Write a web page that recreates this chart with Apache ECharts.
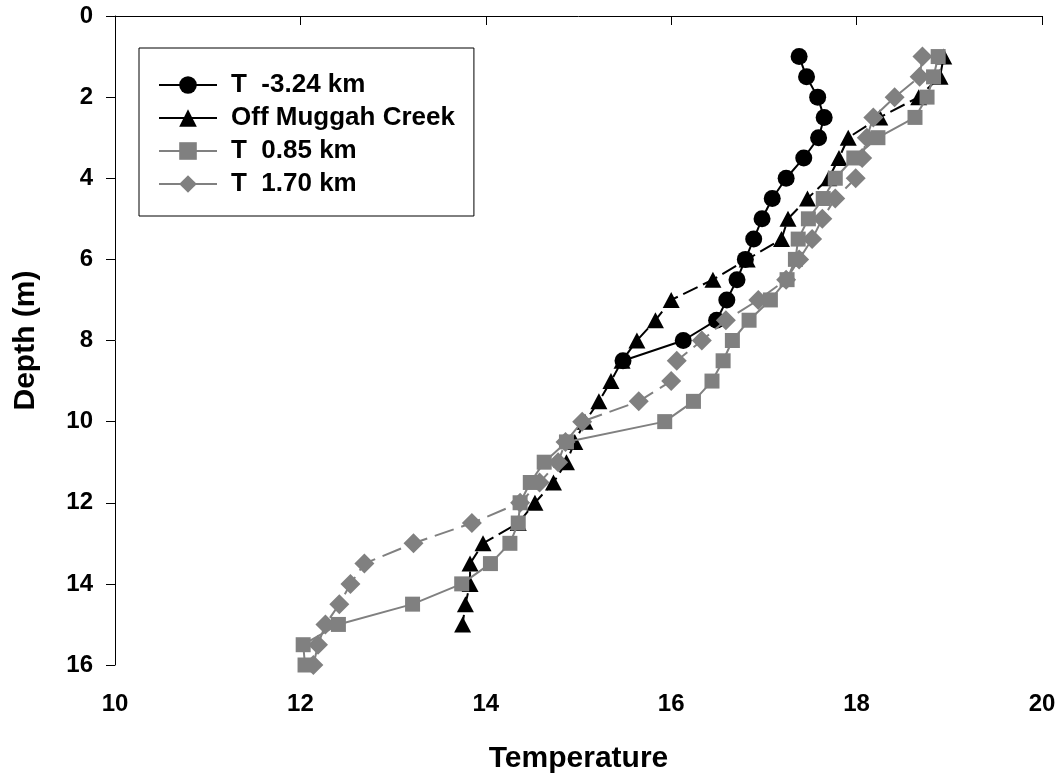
<!DOCTYPE html>
<html>
<head>
<meta charset="utf-8">
<script src="https://cdn.jsdelivr.net/npm/echarts@6/dist/echarts.min.js"></script>
<style>
html,body{margin:0;padding:0;background:#fff;}
#chart{width:1062px;height:777px;}
</style>
</head>
<body>
<div id="chart"></div>
<script>
// Series names
const seriesNames = ['T  -3.24 km', 'Off Muggah Creek', 'T  0.85 km', 'T  1.70 km'];

// Depths (m)
const depthsCircle = [1,1.5,2,2.5,3,3.5,4,4.5,5,5.5,6,6.5,7,7.5,8,8.5];
const depthsTriangle = [1,1.5,2,2.5,3,3.5,4,4.5,5,5.5,6,6.5,7,7.5,8,8.5,9,9.5,10,10.5,11,11.5,12,12.5,13,13.5,14,14.5,15];
const depthsSquare = [1,1.5,2,2.5,3,3.5,4,4.5,5,5.5,6,6.5,7,7.5,8,8.5,9,9.5,10,10.5,11,11.5,12,12.5,13,13.5,14,14.5,15,15.5,16];
const depthsDiamond = [1,1.5,2,2.5,3,3.5,4,4.5,5,5.5,6,6.5,7,7.5,8,8.5,9,9.5,10,10.5,11,11.5,12,12.5,13,13.5,14,14.5,15,15.5,16];

// Temperatures
const tempCircle = [17.38,17.46,17.58,17.65,17.59,17.43,17.24,17.09,16.98,16.89,16.80,16.71,16.60,16.49,16.13,15.48];
const tempTriangle = [18.94,18.90,18.67,18.25,17.91,17.81,17.70,17.47,17.26,17.19,16.82,16.45,16.00,15.83,15.63,15.47,15.35,15.22,15.07,14.96,14.87,14.73,14.53,14.35,13.97,13.83,13.83,13.78,13.75];
const tempSquare = [18.88,18.83,18.76,18.63,18.23,17.97,17.77,17.64,17.48,17.37,17.34,17.25,17.07,16.84,16.66,16.56,16.44,16.24,15.93,14.87,14.63,14.48,14.37,14.35,14.26,14.05,13.74,13.21,12.41,12.03,12.05];
const tempDiamond = [18.71,18.68,18.41,18.18,18.11,18.06,17.99,17.77,17.63,17.52,17.38,17.24,16.94,16.59,16.33,16.06,16.00,15.65,15.04,14.86,14.78,14.58,14.37,13.85,13.22,12.69,12.54,12.42,12.27,12.19,12.14];

// Axis ticks
const xTicks = {min: 10, max: 20, interval: 2};
const yTicks = {min: 0, max: 16, interval: 2};

const pairs = (t, d) => t.map((v, i) => [v, d[i]]);
const FONT = '"Liberation Sans", Arial, sans-serif';

const chart = echarts.init(document.getElementById('chart'), null, {renderer: 'canvas'});
chart.setOption({
  animation: false,
  backgroundColor: '#fff',
  grid: {left: 115, right: 20, top: 16, bottom: 112, containLabel: false, outerBoundsMode: 'none'},
  legend: {
    data: seriesNames,
    orient: 'vertical',
    left: 139, top: 48,
    padding: [24, 19, 19, 19],
    borderColor: '#000', borderWidth: 1,
    itemWidth: 58, itemHeight: 22, itemGap: 7,
    lineStyle: {type: 'solid'},
    textStyle: {fontFamily: FONT, fontWeight: 'bold', fontSize: 26, lineHeight: 26, color: '#000', padding: [0,0,0,9]}
  },
  xAxis: {
    type: 'value', min: xTicks.min, max: xTicks.max, interval: xTicks.interval,
    name: 'Temperature', nameLocation: 'middle', nameGap: 79,
    nameTextStyle: {fontFamily: FONT, fontWeight: 'bold', fontSize: 30, color: '#000'},
    axisLine: {show: true, lineStyle: {color: '#000', width: 1}},
    axisTick: {show: true, length: 9, lineStyle: {color: '#000', width: 1}},
    axisLabel: {fontFamily: FONT, fontWeight: 'bold', fontSize: 24, color: '#000', margin: 27},
    splitLine: {show: false}
  },
  yAxis: {
    type: 'value', inverse: true, min: yTicks.min, max: yTicks.max, interval: yTicks.interval,
    name: 'Depth (m)', nameLocation: 'middle', nameGap: 74,
    nameTextStyle: {fontFamily: FONT, fontWeight: 'bold', fontSize: 30, color: '#000'},
    axisLine: {show: true, lineStyle: {color: '#000', width: 1}},
    axisTick: {show: true, length: 9, lineStyle: {color: '#000', width: 1}},
    axisLabel: {fontFamily: FONT, fontWeight: 'bold', fontSize: 24, color: '#000', margin: 22},
    splitLine: {show: false}
  },
  series: [
    {
      name: seriesNames[1], type: 'line', data: pairs(tempTriangle, depthsTriangle),
      symbol: 'triangle', symbolSize: [17, 16], z: 2,
      lineStyle: {color: '#000', width: 2, type: [16, 6]},
      itemStyle: {color: '#000'}
    },
    {
      name: seriesNames[0], type: 'line', data: pairs(tempCircle, depthsCircle),
      symbol: 'circle', symbolSize: 17, z: 3,
      lineStyle: {color: '#000', width: 2},
      itemStyle: {color: '#000'}
    },
    {
      name: seriesNames[2], type: 'line', data: pairs(tempSquare, depthsSquare),
      symbol: 'rect', symbolSize: 15, z: 4,
      lineStyle: {color: '#808080', width: 2},
      itemStyle: {color: '#808080'}
    },
    {
      name: seriesNames[3], type: 'line', data: pairs(tempDiamond, depthsDiamond),
      symbol: 'diamond', symbolSize: 20, z: 5,
      lineStyle: {color: '#808080', width: 2, type: [20, 8]},
      itemStyle: {color: '#808080'}
    }
  ]
});
</script>
</body>
</html>
